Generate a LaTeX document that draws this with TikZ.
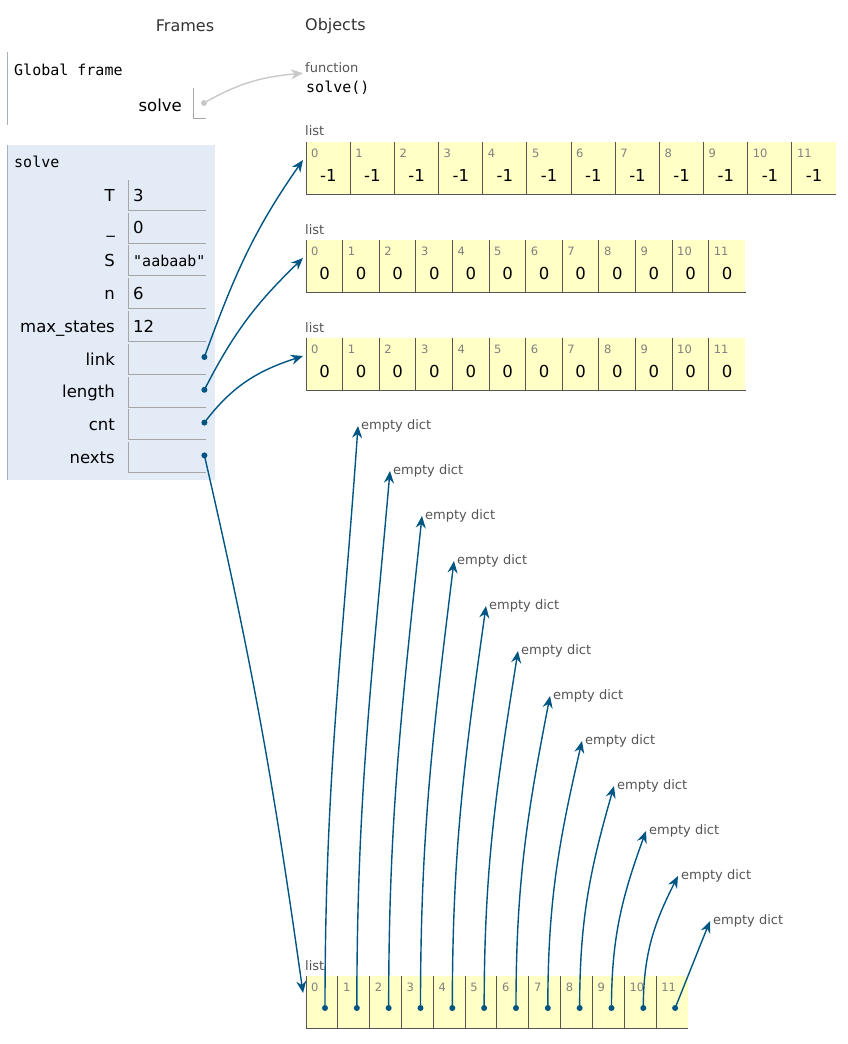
\documentclass[tikz,border=0pt]{standalone}
\usepackage{fontspec}
\setmainfont{DejaVu Sans}
\setmonofont{DejaVu Sans Mono}
\usetikzlibrary{arrows.meta, positioning, calc}

\definecolor{ptblue}{HTML}{005583}
\definecolor{ptgray}{HTML}{C8C8C8}
\definecolor{framebg}{HTML}{E2EBF6}
\definecolor{frameline}{HTML}{A6B3B6}
\definecolor{listbg}{HTML}{FFFFC6}
\definecolor{cellline}{HTML}{555555}
\definecolor{idxgray}{HTML}{808080}
\definecolor{lblgray}{HTML}{555555}

\tikzset{
  hdr/.style={font=\fontsize{16}{19}\selectfont, text=black!80, inner sep=0},
  mono/.style={font=\ttfamily\fontsize{15}{18}\selectfont, anchor=west, inner sep=0},
  varname/.style={font=\fontsize{16.5}{19}\selectfont, anchor=east, inner sep=0, text height=12, text depth=0},
  numval/.style={font=\fontsize{16.5}{19}\selectfont, anchor=west, inner sep=0, text height=12, text depth=0},
  valcell/.style={minimum width=78, minimum height=30, inner sep=0},
  cellrule/.style={draw=gray!70, line width=1},
  lcell/.style={fill=listbg, minimum height=52, inner sep=0, anchor=north west},
  lrule/.style={draw=cellline, line width=1},
  idx/.style={font=\fontsize{11.5}{13}\selectfont, text=idxgray, anchor=west, inner sep=0},
  listval/.style={font=\fontsize{16.5}{19}\selectfont, inner sep=0, text height=12, text depth=0},
  typelbl/.style={font=\fontsize{13}{15}\selectfont, text=lblgray, anchor=west, inner sep=0},
  dictlbl/.style={font=\fontsize{13}{15}\selectfont, text=lblgray, anchor=west, inner sep=3},
  ptdot/.style={circle, fill=ptblue, inner sep=0, minimum size=6},
  ptarrow/.style={draw=ptblue, line width=1.4, -{Stealth[length=12pt, width=10pt, inset=4pt]}},
  fnarrow/.style={draw=ptgray, line width=1.4, -{Stealth[length=12pt, width=10pt, inset=4pt]}}
}

\begin{document}
\begin{tikzpicture}[x=1pt, y=1pt]
  \useasboundingbox (0,0) rectangle (848,-1044);

  % headers
  \node[hdr] (hframes) at (185,-26) {Frames};
  \node[hdr, anchor=west] (hobjects) at (305,-26) {Objects};

  % global frame
  \draw[frameline, line width=1] (7,-52) -- (7,-125);
  \node[mono] (gtitle) at (14,-70) {Global frame};
  \node[varname] (n-gsolve) at (182,-105) {solve};
  \node[valcell, minimum width=13, anchor=west] (v-gsolve) at (193,-103) {};
  \draw[cellrule] (v-gsolve.north west) -- (v-gsolve.south west) -- (v-gsolve.south east);
  \node[circle, fill=ptgray, inner sep=0, minimum size=6] (dot-gsolve) at (204,-103) {};

  % function object
  \node[typelbl] (fnlbl) at (305,-68) {function};
  \node[mono] (fnname) at (306,-88) {solve()};
  \draw[fnarrow] (dot-gsolve.center) to[out=30, in=-175] ([xshift=-2]fnlbl.south west);

  % solve frame
  \fill[framebg] (7,-145) rectangle (215,-480);
  \draw[frameline, line width=1] (7,-145) -- (7,-480);
  \node[mono] (stitle) at (14,-162) {solve};
  \foreach \vn/\lbl [count=\k from 0] in {T/T, us/\_, S/S, n/n, maxs/max\_states, link/link, length/length, cnt/cnt, nexts/nexts} {
    \node[varname] (n-\vn) at (115, {-195-32.8*\k}) {\lbl};
    \node[valcell, anchor=west] (v-\vn) at (128, {-195-32.8*\k}) {};
    \draw[cellrule] (v-\vn.north west) -- (v-\vn.south west) -- (v-\vn.south east);
  }
  \node[numval] at ([xshift=5]v-T.west) {3};
  \node[numval] at ([xshift=5]v-us.west) {0};
  \node[mono] at ([xshift=5]v-S.west) {"aabaab"};
  \node[numval] at ([xshift=5]v-n.west) {6};
  \node[numval] at ([xshift=5]v-maxs.west) {12};
  \foreach \vn in {link, length, cnt, nexts} {
    \node[ptdot] (dot-\vn) at ([xshift=-2, yshift=2]v-\vn.east) {};
  }

  % list link
  \node[typelbl] (t1) at (305,-131) {list};
  \foreach \i in {0,...,11} {
    \node[lcell, minimum width=44.17] (l1-\i) at ({306+44.17*\i}, -142) {};
    \draw[lrule] (l1-\i.north west) -- (l1-\i.south west) -- (l1-\i.south east);
    \node[idx] at ([xshift=5, yshift=-11]l1-\i.north west) {\i};
    \node[listval] at ([yshift=-33]l1-\i.north) {-1};
  }

  % list length
  \node[typelbl] (t2) at (305,-230) {list};
  \foreach \i in {0,...,11} {
    \node[lcell, minimum width=36.6] (l2-\i) at ({306+36.6*\i}, -240) {};
    \draw[lrule] (l2-\i.north west) -- (l2-\i.south west) -- (l2-\i.south east);
    \node[idx] at ([xshift=5, yshift=-11]l2-\i.north west) {\i};
    \node[listval] at ([yshift=-33]l2-\i.north) {0};
  }

  % list cnt
  \node[typelbl] (t3) at (305,-328) {list};
  \foreach \i in {0,...,11} {
    \node[lcell, minimum width=36.6] (l3-\i) at ({306+36.6*\i}, -338) {};
    \draw[lrule] (l3-\i.north west) -- (l3-\i.south west) -- (l3-\i.south east);
    \node[idx] at ([xshift=5, yshift=-11]l3-\i.north west) {\i};
    \node[listval] at ([yshift=-33]l3-\i.north) {0};
  }

  % list nexts
  \node[typelbl] (t4) at (305,-966) {list};
  \foreach \i in {0,...,11} {
    \node[lcell, minimum width=31.83] (bl-\i) at ({306+31.83*\i}, -976) {};
    \draw[lrule] (bl-\i.north west) -- (bl-\i.south west) -- (bl-\i.south east);
    \node[idx] at ([xshift=5, yshift=-11]bl-\i.north west) {\i};
    \node[ptdot] (b-\i) at ([xshift=19, yshift=-32]bl-\i.north west) {};
  }

  % frame pointers
  \draw[ptarrow] (dot-link.center) to[out=70, in=-125] ([xshift=-3, yshift=-18]l1-0.north west);
  \draw[ptarrow] (dot-length.center) to[out=63, in=-136] ([xshift=-3, yshift=-18]l2-0.north west);
  \draw[ptarrow] (dot-cnt.center) to[out=53, in=-162] ([xshift=-3, yshift=-18]l3-0.north west);
  \draw[ptarrow] (dot-nexts.center) to[out=-77, in=98] ([xshift=-3, yshift=-17]bl-0.north west);

  % empty dicts
  \foreach \i/\oa/\ia in {0/90/-94, 1/90/-95, 2/90/-96, 3/90/-97, 4/90/-98, 5/90/-99,
                          6/90/-101, 7/90/-103, 8/90/-106, 9/90/-110, 10/90/-117, 11/68/-112} {
    \node[dictlbl] (d\i) at ({358+32*\i}, {-426-45*\i}) {empty dict};
    \draw[ptarrow] (b-\i.center) to[out=\oa, in=\ia] (d\i.west);
  }
\end{tikzpicture}
\end{document}
